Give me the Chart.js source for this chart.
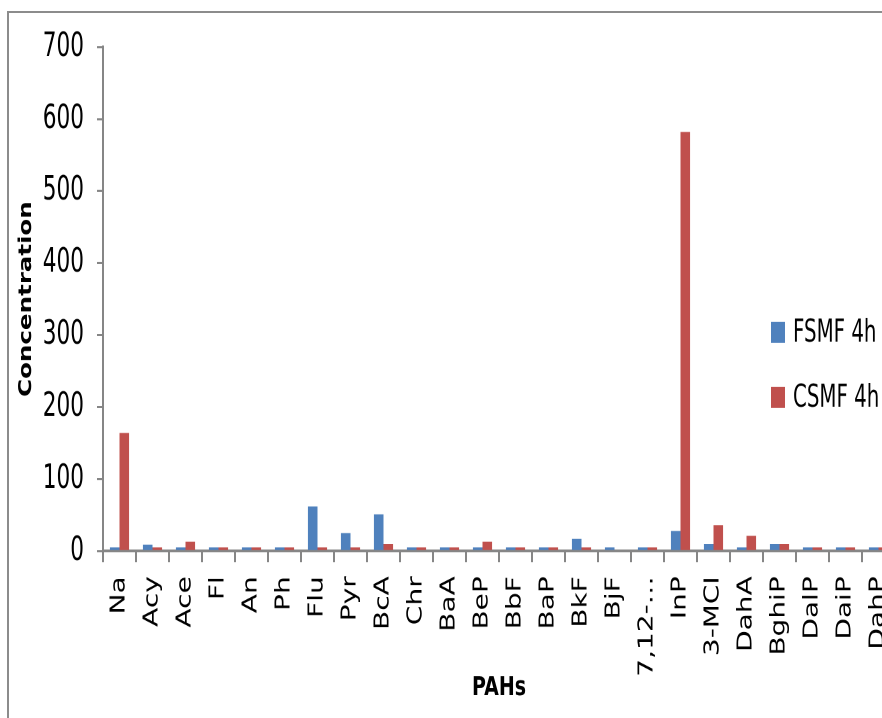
<!DOCTYPE html>
<html>
<head>
    <title>PAHs concentration</title>
    <script src="https://cdn.jsdelivr.net/npm/chart.js@4.4.1/dist/chart.umd.min.js"></script>
    <style>
        html, body { margin: 0; padding: 0; background: #fff; overflow: hidden; }
        .frame { position: absolute; left: 7px; top: 11px; width: 2000px; height: 2000px; border: 2px solid #8c8c8c; }
        /* the original picture is an Excel chart stretched vertically */
        .stretch { position: absolute; left: 0; top: 0; width: 900px; height: 513px; transform: scaleY(1.4); transform-origin: 0 0; }
    </style>
</head>
<body>
    <div class="frame"></div>
    <div class="stretch">
        <canvas id="pahChart"></canvas>
    </div>

    <script>
        // categories and values
        const categories = ['Na', 'Acy', 'Ace', 'Fl', 'An', 'Ph', 'Flu', 'Pyr', 'BcA', 'Chr', 'BaA', 'BeP',
            'BbF', 'BaP', 'BkF', 'BjF', '7,12-…', 'InP', '3-MCI', 'DahA', 'BghiP', 'DalP', 'DaiP', 'DahP'];
        const fsmf4h = [5, 9, 5, 5, 5, 5, 62, 25, 51, 5, 5, 5, 5, 5, 17, 5, 5, 28, 10, 5, 10, 5, 5, 5];
        const csmf4h = [164, 5, 13, 5, 5, 5, 5, 5, 10, 5, 5, 13, 5, 5, 5, 0, 5, 582, 36, 21, 10, 5, 5, 5];
        const yTickValues = [0, 100, 200, 300, 400, 500, 600, 700];

        const narrow = "'Liberation Sans Narrow', 'DejaVu Sans Condensed', sans-serif";
        const axisGrey = '#868686';

        // legend drawn on the right, over the plot, like the original
        const sideLegend = {
            id: 'sideLegend',
            afterDraw(chart) {
                const ctx = chart.ctx;
                ctx.save();
                ctx.font = '22px ' + narrow;
                ctx.textBaseline = 'middle';
                chart.data.datasets.forEach((ds, i) => {
                    const y = 237.4 + i * 46.5;
                    ctx.fillStyle = ds.backgroundColor;
                    ctx.fillRect(771, y - 7.5, 14, 15);
                    ctx.fillStyle = '#000';
                    ctx.fillText(ds.label, 793, y + 1);
                });
                ctx.restore();
            }
        };

        new Chart(document.getElementById('pahChart'), {
            type: 'bar',
            data: {
                labels: categories,
                datasets: [
                    { label: 'FSMF 4h', data: fsmf4h, backgroundColor: '#4F81BD' },
                    { label: 'CSMF 4h', data: csmf4h, backgroundColor: '#C0504D' }
                ]
            },
            options: {
                responsive: true,
                maintainAspectRatio: false,
                animation: false,
                devicePixelRatio: 2,
                categoryPercentage: 0.58,
                barPercentage: 1.0,
                layout: { padding: { left: 0, top: 33.6, right: 5, bottom: 0 } },
                plugins: {
                    legend: { display: false },
                    tooltip: { enabled: false }
                },
                scales: {
                    x: {
                        grid: { drawOnChartArea: false, color: axisGrey, lineWidth: 2, tickLength: 8, offset: true },
                        border: { color: axisGrey, width: 2 },
                        ticks: {
                            minRotation: 90, maxRotation: 90, autoSkip: false, padding: 10,
                            color: '#000', font: { family: 'DejaVu Sans', size: 20 }
                        },
                        title: {
                            display: true, text: 'PAHs', color: '#000',
                            font: { family: 'DejaVu Sans', size: 19, weight: 'bold' },
                            padding: { top: 0, bottom: 10 }
                        },
                        afterFit(scale) {
                            scale.height = 513 - 393.6;
                            scale.paddingLeft = 0;
                            scale.paddingRight = 0;
                        }
                    },
                    y: {
                        min: 0,
                        max: 700,
                        afterBuildTicks(scale) {
                            scale.ticks = yTickValues.map(v => ({ value: v }));
                        },
                        grid: { drawOnChartArea: false, color: axisGrey, lineWidth: 1.5, tickLength: 6 },
                        border: { color: axisGrey, width: 2 },
                        ticks: { padding: 13, color: '#000', font: { family: narrow, size: 24 } },
                        title: {
                            display: true, text: 'Concentration', color: '#000',
                            font: { family: 'DejaVu Sans', size: 17.5, weight: 'bold' },
                            padding: { top: 16, bottom: 0 }
                        },
                        afterFit(scale) {
                            scale.width = 103;
                            scale.paddingTop = 0;
                            scale.paddingBottom = 0;
                        }
                    }
                }
            },
            plugins: [sideLegend]
        });
    </script>
</body>
</html>
